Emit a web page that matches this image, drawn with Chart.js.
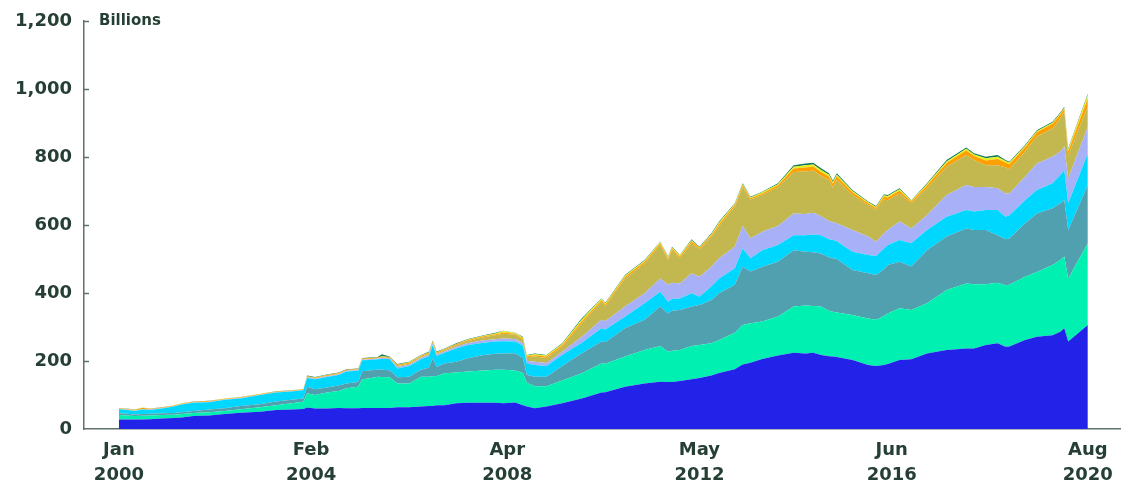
<!DOCTYPE html>
<html>
<head>
<meta charset="utf-8">
<script src="https://cdn.jsdelivr.net/npm/chart.js@4.4.0/dist/chart.umd.min.js"></script>
<style>
  html, body { margin: 0; padding: 0; background: #fff; }
  #wrap { width: 1133px; height: 484px; }
</style>
</head>
<body>
<div id="wrap"><canvas id="chart" width="1133" height="484"></canvas></div>
<script>
// month index counted from Jan 2000
const months = [0, 2, 4, 6, 8, 11, 14, 16, 19, 23, 27, 31, 36, 40, 44, 47,
    48, 50, 53, 56, 58, 61, 62, 64, 66, 67, 69,
    71, 74, 77, 79, 80, 81, 83, 86, 89, 93, 96, 98, 101, 103, 104, 106, 109, 113,
    118, 123, 124, 129, 134, 138, 140, 141, 143, 146, 148, 151, 153, 157, 159, 161, 164, 168, 172,
    175, 177, 179, 181, 182, 183, 187, 191, 193, 195, 196, 199, 202, 206, 211, 216, 218, 221, 224,
    226, 227, 231, 234, 238, 240, 241, 242, 247];

// layer values, billions (bottom to top)
const blue = [28, 28, 28, 28, 29, 31, 32, 34, 38, 40, 44, 48, 51, 56, 57, 59,
    63, 60, 60, 62, 61, 61, 62, 62, 62, 62, 62,
    64, 64, 66, 68, 68, 70, 70, 76, 77, 77, 77, 76, 78, 70, 66, 61, 66, 76,
    90, 107, 108, 124, 134, 139, 138, 138, 141, 146, 150, 157, 165, 176, 190, 195, 206, 216, 224,
    222, 224, 218, 214, 213, 212, 203, 188, 185, 188, 191, 203, 205, 222, 232, 237, 237, 247, 252,
    242, 243, 262, 271, 276, 286, 296, 257, 306];
const mint = [13, 12, 10, 11, 11, 10, 10, 10, 9, 9, 9, 10, 13, 14, 19, 21,
    42, 40, 47, 50, 59, 63, 84, 87, 92, 91, 90,
    70, 70, 88, 86, 87, 86, 94, 90, 92, 95, 97, 98, 94, 95, 70, 65, 60, 67,
    74, 86, 84, 89, 98, 105, 89, 92, 91, 98, 97, 95, 97, 107, 116, 116, 110, 115, 136,
    141, 138, 142, 134, 132, 131, 132, 137, 136, 144, 149, 152, 145, 148, 177, 191, 189, 179, 178,
    181, 181, 186, 191, 206, 211, 211, 186, 240];
const teal = [5, 5, 5, 5, 5, 5, 5, 5, 6, 8, 8, 10, 9, 11, 10, 10,
    19, 17, 15, 16, 14, 14, 24, 23, 21, 21, 21,
    18, 20, 20, 26, 53, 26, 29, 32, 39, 46, 47, 48, 51, 43, 23, 28, 28, 42,
    59, 64, 63, 83, 89, 116, 113, 118, 118, 116, 118, 127, 137, 141, 171, 152, 161, 161, 166,
    158, 158, 156, 157, 157, 157, 133, 133, 132, 138, 142, 137, 128, 156, 157, 162, 159, 159, 140,
    135, 136, 157, 172, 167, 167, 166, 142, 172];
const cyan = [12, 11, 10, 13, 11, 14, 19, 23, 24, 22, 25, 22, 27, 26, 24, 24,
    26, 29, 31, 31, 35, 33, 32, 31, 30, 32, 33,
    26, 31, 31, 34, 39, 33, 31, 39, 39, 36, 36, 36, 34, 37, 34, 34, 31, 33,
    31, 39, 38, 34, 49, 44, 34, 34, 34, 39, 24, 40, 44, 49, 54, 39, 49, 49, 44,
    49, 52, 54, 53, 54, 52, 53, 54, 56, 60, 59, 64, 68, 59, 58, 54, 55, 59, 74,
    66, 69, 68, 69, 74, 83, 89, 79, 93];
const lavender = [1, 1, 1, 1, 1, 1, 1, 1, 1, 1, 1, 1, 1, 1, 1, 1,
    2, 2, 2, 2, 2, 2, 2, 2, 2, 3, 2,
    4, 4, 4, 4, 4, 4, 4, 5, 6, 7, 7, 8, 8, 7, 8, 10, 9, 9,
    17, 25, 24, 30, 29, 39, 50, 48, 44, 59, 59, 58, 59, 63, 66, 59, 54, 56, 64,
    62, 64, 56, 54, 52, 53, 64, 54, 42, 45, 44, 54, 44, 44, 64, 74, 72, 68, 64,
    69, 64, 69, 78, 78, 69, 69, 73, 78];
const olive = [0.5, 0.5, 0.5, 0.5, 0.5, 0.5, 0.5, 0.5, 0.5, 0.5, 0.5, 0.5, 0.5, 0.5, 0.5, 0.5,
    1, 1, 1, 1, 1, 1, 1, 1, 1, 2, 1,
    3, 3, 3, 3, 3, 3, 3, 4, 6, 9, 12, 14, 12, 12, 10, 15, 15, 15,
    40, 53, 44, 83, 88, 98, 73, 96, 74, 88, 80, 87, 95, 118, 114, 114, 108, 114, 122,
    125, 124, 118, 120, 102, 127, 103, 93, 93, 100, 88, 83, 74, 79, 83, 88, 79, 64, 68,
    77, 71, 74, 79, 83, 98, 102, 68, 60];
const orange = [1.5, 1.5, 1.5, 4, 1.5, 1.5, 1.5, 1.5, 1.5, 1.5, 1.5, 1.5, 1.5, 1.5, 1.5, 1.5,
    2, 2, 2, 2, 2, 2, 2, 2, 2, 2, 2,
    3, 3, 3, 3, 3, 3, 3, 3, 3, 3, 3, 4, 3, 3, 3, 4, 4, 5,
    6, 5, 5, 5, 5, 5, 5, 5, 5, 6, 4, 5, 6, 5, 6, 4, 5, 6, 10,
    12, 12, 12, 11, 11, 11, 8, 5, 6, 8, 8, 8, 5, 8, 11, 13, 12, 14, 18,
    14, 15, 13, 13, 14, 11, 9, 12, 24];
const yellow = [0.5, 0.5, 0.5, 0.5, 0.5, 0.5, 0.5, 0.5, 0.5, 0.5, 0.5, 0.5, 0.5, 0.5, 0.5, 0.5,
    0.5, 0.5, 0.5, 0.5, 0.5, 0.5, 0.5, 0.5, 0.5, 1, 0.5,
    1, 1, 1, 1, 1, 1, 1, 1, 1, 1, 2, 4, 2, 2, 2, 3, 3, 3,
    5, 3, 3, 3, 3, 3, 3, 3, 3, 3, 2, 3, 4, 3, 3, 2, 3, 3, 5,
    7, 6, 6, 5, 5, 5, 4, 3, 3, 4, 4, 4, 2, 4, 5, 5, 4, 6, 7,
    4, 4, 3, 3, 3, 3, 3, 5, 10];
const green = [0.5, 0.5, 0.5, 0.5, 0.5, 0.5, 0.5, 0.5, 0.5, 0.5, 0.5, 0.5, 0.5, 0.5, 0.5, 0.5,
    1.5, 1.5, 1.5, 1.5, 1.5, 1.5, 1.5, 1.5, 1.5, 6, 1.5,
    2, 2, 2, 2, 2, 2, 2, 2, 2, 2, 2, 1, 1, 2, 2, 2, 2, 2,
    4, 2, 2, 2, 2, 2, 2, 2, 2, 3, 2, 3, 3, 2, 3, 2, 2, 3, 5,
    5, 5, 5, 4, 4, 4, 3, 2, 3, 3, 3, 3, 2, 3, 4, 4, 4, 5, 5,
    3, 3, 3, 3, 3, 3, 3, 3, 4];

const tickMonths = [0, 49, 99, 148, 197, 247];
const tickLabels = [["Jan", "2000"], ["Feb", "2004"], ["Apr", "2008"], ["May", "2012"], ["Jun", "2016"], ["Aug", "2020"]];

const layers = [
    { data: blue, color: "#2222e8" },
    { data: mint, color: "#00f0b2" },
    { data: teal, color: "#50a0b0" },
    { data: cyan, color: "#00d7ff" },
    { data: lavender, color: "#a8b0f8" },
    { data: olive, color: "#c3b84f" },
    { data: orange, color: "#ffa000" },
    { data: yellow, color: "#e4f020" },
    { data: green, color: "#12795c" }
];

const textColor = "#263f35";
const axisColor = "#5f716a";
const xFont = { family: "DejaVu Sans", weight: "bold", size: 18, lineHeight: 1.4 };
const yFont = { family: "DejaVu Sans", weight: "bold", size: 18, lineHeight: 1 };

// short inward ticks on the y axis and the unit label
const extras = {
    id: "extras",
    afterDraw(chart) {
        const ctx = chart.ctx;
        const y = chart.scales.y;
        const left = chart.chartArea.left;
        ctx.save();
        ctx.strokeStyle = axisColor;
        ctx.lineWidth = 1.5;
        y.ticks.forEach(t => {
            const py = Math.round(y.getPixelForValue(t.value)) + 0.5;
            if (t.value === 0) return;
            ctx.beginPath();
            ctx.moveTo(left, py);
            ctx.lineTo(left + 5, py);
            ctx.stroke();
        });
        ctx.fillStyle = textColor;
        ctx.font = "bold 15px 'DejaVu Sans'";
        ctx.textBaseline = "middle";
        ctx.fillText("Billions", left + 15, y.getPixelForValue(1200));
        ctx.restore();
    }
};

new Chart(document.getElementById("chart"), {
    type: "line",
    data: {
        datasets: layers.map((layer, i) => ({
            data: months.map((m, j) => ({ x: m, y: layer.data[j] })),
            backgroundColor: layer.color,
            borderColor: layer.color,
            borderWidth: 0,
            pointRadius: 0,
            tension: 0,
            fill: i === 0 ? "origin" : "-1"
        }))
    },
    options: {
        responsive: false,
        animation: false,
        layout: { padding: { top: 21, right: 13, left: 0, bottom: 0 } },
        plugins: {
            legend: { display: false },
            tooltip: { enabled: false }
        },
        scales: {
            x: {
                type: "linear",
                min: -8.9,
                max: 255.2,
                afterBuildTicks: s => { s.ticks = tickMonths.map(v => ({ value: v })); },
                afterFit: s => { s.height = 55; },
                grid: { display: false, drawTicks: false },
                border: { display: true, color: axisColor, width: 1.5 },
                ticks: {
                    autoSkip: false,
                    maxRotation: 0,
                    padding: 9,
                    color: textColor,
                    font: xFont,
                    callback: v => tickLabels[tickMonths.indexOf(v)] || ""
                }
            },
            y: {
                stacked: true,
                min: 0,
                max: 1200,
                afterFit: s => { s.width = 84; },
                grid: { display: false, drawTicks: false },
                border: { display: true, color: axisColor, width: 1.5 },
                ticks: {
                    stepSize: 200,
                    padding: 12,
                    color: textColor,
                    font: yFont,
                    callback: v => v.toLocaleString("en-US")
                }
            }
        }
    },
    plugins: [extras]
});
</script>
</body>
</html>
